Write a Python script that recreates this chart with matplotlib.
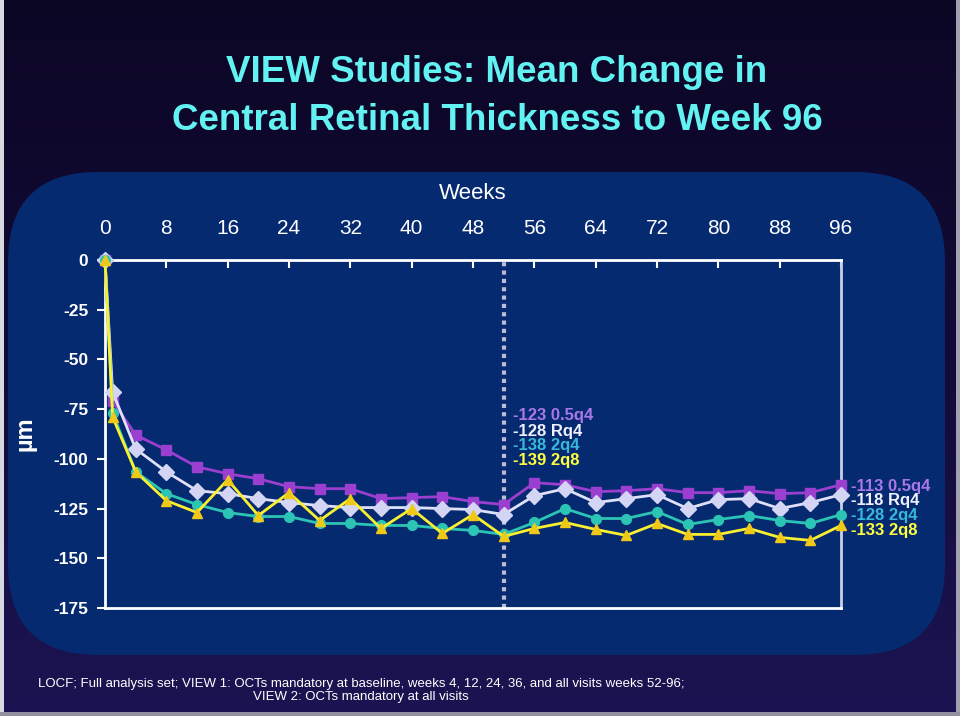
import numpy as np
import matplotlib.pyplot as plt
from matplotlib.patches import FancyBboxPatch, Rectangle

# data
weeks = [0, 1, 4, 8, 12, 16, 20, 24, 28, 32, 36, 40, 44, 48, 52,
         56, 60, 64, 68, 72, 76, 80, 84, 88, 92, 96]
q05q4 = [0, -71, -88, -95.5, -104, -107.5, -110, -114, -115, -115, -120, -119.5, -119,
         -121.5, -123, -112, -113, -116.5, -116, -115, -117, -117, -116, -117.5, -117, -113]
rq4 = [0, -66.5, -95, -106.5, -116, -117.5, -120, -122, -123.5, -124.5, -124.5, -124.5, -125,
       -125.5, -128, -118.5, -115, -122, -120, -118, -125, -120.5, -120, -125, -122, -118]
q2q4 = [0, -77, -106.5, -117.5, -123, -127, -129, -129, -132.5, -132.5, -133.5, -133.5, -135,
        -136, -138, -132, -125, -130, -130, -126.5, -133, -130.5, -128.5, -131, -132.5, -128]
q2q8 = [0, -79, -106.5, -121, -127, -110.5, -128.5, -117, -131, -120, -135, -125, -137.5,
        -128, -139, -135, -132, -135.5, -138.5, -132.5, -138, -138, -135, -139.5, -141, -133.5]

x_ticks = [0, 8, 16, 24, 32, 40, 48, 56, 64, 72, 80, 88, 96]
y_ticks = [0, -25, -50, -75, -100, -125, -150, -175]

wk52_labels = ["-123 0.5q4", "-128 Rq4", "-138 2q4", "-139 2q8"]
wk96_labels = ["-113 0.5q4", "-118 Rq4", "-128 2q4", "-133 2q8"]
label_cols = ["#a878e8", "#f0f0ff", "#38b8d8", "#ffff40"]

plt.rcParams['font.family'] = ['Liberation Sans', 'DejaVu Sans']
plt.rcParams['axes.unicode_minus'] = False

fig = plt.figure(figsize=(9.6, 7.16), dpi=100)

# background layer in pixel units
bg = fig.add_axes([0, 0, 1, 1], zorder=0)
bg.set_xlim(0, 960)
bg.set_ylim(716, 0)
bg.axis('off')
grad = np.linspace(0, 1, 256).reshape(-1, 1)
bg.imshow(grad, extent=[0, 960, 716, 0], aspect='auto',
          cmap=plt.matplotlib.colors.LinearSegmentedColormap.from_list(
              'bgc', ['#0c0625', '#120b38', '#1c1452']))
bg.add_patch(FancyBboxPatch((8, 172), 937, 483,
                            boxstyle="round,pad=0,rounding_size=90",
                            fc='#062a70', ec='none'))
bg.add_patch(Rectangle((0, 0), 4, 716, fc='#d8d8e0', ec='none'))
bg.add_patch(Rectangle((956, 0), 4, 716, fc='#a0a0b0', ec='none'))
bg.add_patch(Rectangle((0, 712), 960, 4, fc='#9090a0', ec='none'))

bg.text(497, 72, "VIEW Studies: Mean Change in", color='#62f2f2', fontsize=26.5,
        fontweight='bold', ha='center', va='center')
bg.text(497, 120, "Central Retinal Thickness to Week 96", color='#62f2f2', fontsize=26.5,
        fontweight='bold', ha='center', va='center')
bg.text(38, 684, "LOCF; Full analysis set; VIEW 1: OCTs mandatory at baseline, weeks 4, 12, 24, 36, "
        "and all visits weeks 52-96;", color='white', fontsize=9.5, va='center')
bg.text(253, 697, "VIEW 2: OCTs mandatory at all visits", color='white', fontsize=9.5,
        va='center')

# main chart
ax = fig.add_axes([105 / 960, 1 - 608 / 716, 736 / 960, 348 / 716], zorder=1)
ax.patch.set_alpha(0)
ax.set_xlim(0, 96)
ax.set_ylim(-175, 0)

ax.axvline(52, color='#b8bed4', lw=3, ls=(0, (1, 1)), zorder=1)

ax.plot(weeks, q05q4, color='#9a3fcf', lw=2, marker='s', ms=7, clip_on=False, zorder=3)
ax.plot(weeks, rq4, color='#e0e0f8', lw=2, marker='D', mfc='#d4d4f4', mec='#d4d4f4',
        ms=8, clip_on=False, zorder=3)
ax.plot(weeks, q2q4, color='#2cc4b4', lw=2, marker='o', ms=7, clip_on=False, zorder=3)
ax.plot(weeks, q2q8, color='#f8f030', lw=2, marker='^', mfc='#f0c818', mec='#f0c818',
        ms=7, clip_on=False, zorder=4)

mid_y = [-78, -86, -93.5, -101]
end_y = [-114, -121, -128.5, -136]
for t, c, yy in zip(wk52_labels, label_cols, mid_y):
    ax.text(53.2, yy, t, color=c, fontsize=12, fontweight='bold', va='center')
for t, c, yy in zip(wk96_labels, label_cols, end_y):
    ax.text(97.3, yy, t, color=c, fontsize=12, fontweight='bold', va='center', clip_on=False)

ax.xaxis.tick_top()
ax.set_xticks(x_ticks)
ax.set_yticks(y_ticks)
ax.tick_params(axis='x', direction='in', length=6, width=1.5, color='white',
               labelcolor='white', labelsize=15, pad=16)
ax.tick_params(axis='y', direction='out', length=6, width=1.5, color='white',
               labelcolor='white', labelsize=12.5, pad=6)
for lab in ax.get_yticklabels():
    lab.set_fontweight('bold')
ax.xaxis.set_label_position('top')
ax.set_xlabel("Weeks", color='white', fontsize=16, labelpad=14)
ax.set_ylabel("µm", color='white', fontsize=17, fontweight='bold', labelpad=12)

for s in ['top', 'left', 'bottom']:
    ax.spines[s].set_color('white')
    ax.spines[s].set_linewidth(2)
ax.spines['right'].set_color('#c8d0e8')
ax.spines['right'].set_linewidth(2)

fig.savefig('out.png', dpi=100)
